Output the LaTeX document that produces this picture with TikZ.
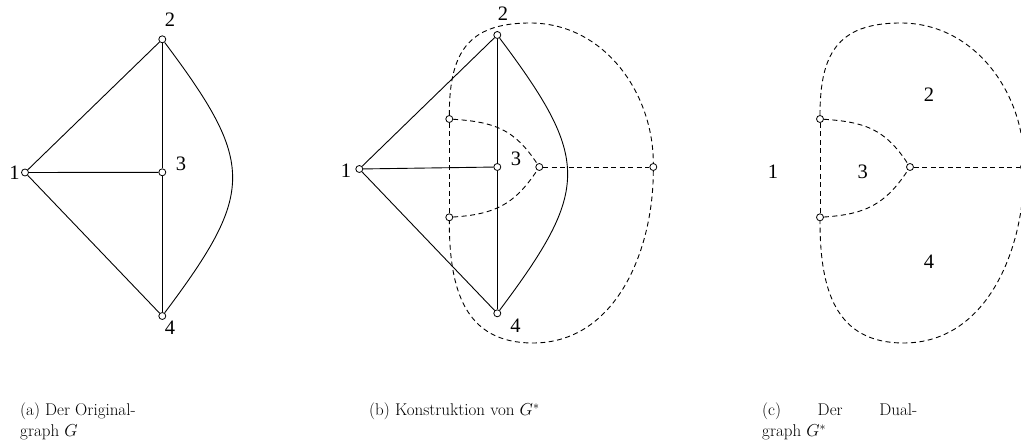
\documentclass[tikz,border=0pt]{standalone}
\usepackage{fontspec}
\newfontfamily\timesf{Liberation Serif}
\begin{document}
\begin{tikzpicture}[x=1pt,y=-1pt,
  vtx/.style={circle,draw,fill=white,inner sep=0pt,minimum size=7pt,line width=0.8pt},
  sedge/.style={line width=0.9pt},
  dedge/.style={line width=0.9pt,dash pattern=on 5pt off 3.5pt},
  lbl/.style={font=\timesf\fontsize{20.5}{24}\selectfont,inner sep=0pt},
  captxt/.style={font=\fontsize{17}{21}\selectfont,inner sep=0pt,anchor=base west}]
\useasboundingbox (0,0) rectangle (1021,446);

% ---------- (a) original graph
\node[vtx] (a1) at (25,172.5) {};
\node[vtx] (a2) at (162.3,39.3) {};
\node[vtx] (a3) at (162.3,172.3) {};
\node[vtx] (a4) at (162.3,316) {};
\draw[sedge] (a1) -- (a2);
\draw[sedge] (a1) -- (a3);
\draw[sedge] (a1) -- (a4);
\draw[sedge] (a2) -- (a3);
\draw[sedge] (a3) -- (a4);
\draw[sedge] (a2) .. controls +(93,124) and +(93,-124) .. (a4);
\node[lbl] (la1) at (14.5,173) {1};
\node[lbl] (la2) at (170,20) {2};
\node[lbl] (la3) at (181,163.5) {3};
\node[lbl] (la4) at (170,328) {4};

% ---------- (b) construction
\node[vtx] (b1) at (359.3,169) {};
\node[vtx] (b2) at (497.3,35) {};
\node[vtx] (b3) at (497.3,167) {};
\node[vtx] (b4) at (497.3,313.3) {};
\draw[sedge] (b1) -- (b2);
\draw[sedge] (b1) -- (b3);
\draw[sedge] (b1) -- (b4);
\draw[sedge] (b2) -- (b3);
\draw[sedge] (b3) -- (b4);
\draw[sedge] (b2) .. controls +(93,124) and +(93,-124) .. (b4);
\node[vtx] (bu) at (449.3,119) {};
\node[vtx] (bl) at (449.3,217.3) {};
\node[vtx] (bc) at (539.3,167) {};
\node[vtx] (br) at (653.3,167) {};
\coordinate (bT) at (530,23);
\coordinate (bB) at (533,343);
\draw[dedge] (bu) -- (bl);
\draw[dedge] (bc) -- (br);
\draw[dedge] (bu) .. controls +(45,3) and +(-25,-38) .. (bc);
\draw[dedge] (bl) .. controls +(45,-3) and +(-25,38) .. (bc);
\draw[dedge] (bu) .. controls +(0,-64) and +(-64,0) .. (bT)
  .. controls +(74,0) and +(0,-74) .. (br);
\draw[dedge] (br) .. controls +(0,83) and +(83,0) .. (bB)
  .. controls +(-68,0) and +(0,73) .. (bl);
\node[lbl] (lb1) at (346,171) {1};
\node[lbl] (lb2) at (503,13.5) {2};
\node[lbl] (lb3) at (516,159) {3};
\node[lbl] (lb4) at (515.5,326) {4};

% ---------- (c) dual graph
\node[vtx] (cu) at (820,119) {};
\node[vtx] (cl) at (820,217.3) {};
\node[vtx] (cc) at (910,167) {};
\node[vtx] (cr) at (1024,167) {};
\coordinate (cT) at (900.7,23);
\coordinate (cB) at (903.7,343);
\draw[dedge] (cu) -- (cl);
\draw[dedge] (cc) -- (cr);
\draw[dedge] (cu) .. controls +(45,3) and +(-25,-38) .. (cc);
\draw[dedge] (cl) .. controls +(45,-3) and +(-25,38) .. (cc);
\draw[dedge] (cu) .. controls +(0,-64) and +(-64,0) .. (cT)
  .. controls +(74,0) and +(0,-74) .. (cr);
\draw[dedge] (cr) .. controls +(0,83) and +(83,0) .. (cB)
  .. controls +(-68,0) and +(0,73) .. (cl);
\node[lbl] (lc1) at (773,171.5) {1};
\node[lbl] (lc2) at (929,94.5) {2};
\node[lbl] (lc3) at (862.7,171.5) {3};
\node[lbl] (lc4) at (929,261.5) {4};

% ---------- captions
\node[captxt] (capa1) at (20,416) {(a) Der Original-};
\node[captxt] (capa2) at (20,437) {graph $G$};
\node[captxt] (capb) at (369,416) {(b) Konstruktion von $G^*$};
\node[captxt] (capc1) at (762,416) {\hbox to 155pt{(c)\hfill Der\hfill Dual-}};
\node[captxt] (capc2) at (762,437) {graph $G^*$};
\end{tikzpicture}
\end{document}
